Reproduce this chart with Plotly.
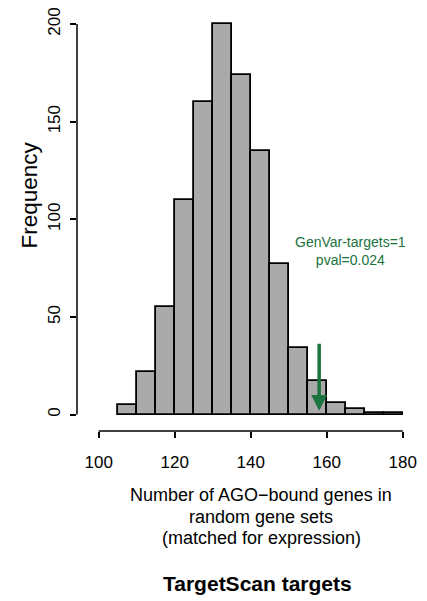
import plotly.graph_objects as go

# histogram of random gene sets (bin width 5)
BIN_STARTS = [105, 110, 115, 120, 125, 130, 135, 140, 145, 150, 155, 160, 165, 170, 175]
COUNTS = [5, 22, 55, 110, 160, 200, 174, 135, 77, 34, 17, 6, 3, 1, 1]
BIN_WIDTH = 5

X_TICKS = [100, 120, 140, 160, 180]
Y_TICKS = [0, 50, 100, 150, 200]

X_LABEL_LINES = ['Number of AGO\u2212bound genes in', 'random gene sets', '(matched for expression)']
TITLE = 'TargetScan targets'

OBSERVED = 158          # GenVar-targets position
ARROW_TOP = 37
PVAL = 0.024

FONT = 'Liberation Sans, Arial, sans-serif'
GREEN = '#1b7340'

fig = go.Figure()

fig.add_trace(go.Bar(
    x=[s + BIN_WIDTH / 2 for s in BIN_STARTS],
    y=COUNTS,
    width=BIN_WIDTH,
    marker=dict(color='#aaaaaa', line=dict(color='black', width=1.8)),
    showlegend=False,
    hoverinfo='x+y'
))

# R-style axis lines that only span the tick range
fig.add_shape(type='line', xref='x', yref='paper', x0=X_TICKS[0], x1=X_TICKS[-1], y0=0, y1=0,
              line=dict(color='black', width=1.5))
fig.add_shape(type='line', xref='paper', yref='y', x0=0, x1=0, y0=Y_TICKS[0], y1=Y_TICKS[-1],
              line=dict(color='black', width=1.5))

# arrow for the observed value
fig.add_annotation(x=OBSERVED, y=2, ax=OBSERVED, ay=ARROW_TOP, xref='x', yref='y',
                   axref='x', ayref='y', text='', showarrow=True,
                   arrowhead=2, arrowsize=0.9, arrowwidth=3.5, arrowcolor=GREEN)
fig.add_annotation(x=166.3, y=84, xref='x', yref='y',
                   text=f'GenVar-targets=1<br>pval={PVAL}', showarrow=False,
                   font=dict(family=FONT, size=14, color=GREEN), align='center')

# y-axis label (placed like R does, centred on the figure region)
fig.add_annotation(x=-0.14, y=0.56, xref='paper', yref='paper', textangle=-90,
                   xanchor='center', yanchor='middle',
                   text='Frequency', showarrow=False,
                   font=dict(family=FONT, size=22.5, color='black'))

# x-axis label, one line at a time
for i, line in enumerate(X_LABEL_LINES):
    fig.add_annotation(x=0.54, y=-0.152 - i * 0.0515, xref='paper', yref='paper',
                       yanchor='middle', text=line, showarrow=False,
                       font=dict(family=FONT, size=18, color='black'))
fig.add_annotation(x=0.53, y=-0.362, xref='paper', yref='paper', yanchor='middle',
                   text=f'<b>{TITLE}</b>', showarrow=False,
                   font=dict(family=FONT, size=21, color='black'))

fig.update_xaxes(range=[94.3, 184], tickvals=X_TICKS, ticks='outside', ticklen=6, tickwidth=1.5,
                 tickcolor='black', showline=False, showgrid=False, zeroline=False, automargin=False,
                 ticklabelstandoff=10, tickfont=dict(family=FONT, size=17, color='black'))
fig.update_yaxes(range=[-8.4, 207.2], tickvals=Y_TICKS, ticks='outside', ticklen=6.5, tickwidth=1.5,
                 tickcolor='black', showline=False, showgrid=False, zeroline=False, tickangle=-90,
                 automargin=False,
                 ticklabelstandoff=3, tickfont=dict(family=FONT, size=17, color='black'))

fig.update_layout(
    width=427, height=601,
    margin=dict(l=77, r=9, t=10, b=170),
    plot_bgcolor='white', paper_bgcolor='white',
    bargap=0
)

# drop the page's default body margin so the figure sits at the window's corner
fig.write_html('out.html', config={'displayModeBar': False},
               post_script="document.body.style.margin='0';")
